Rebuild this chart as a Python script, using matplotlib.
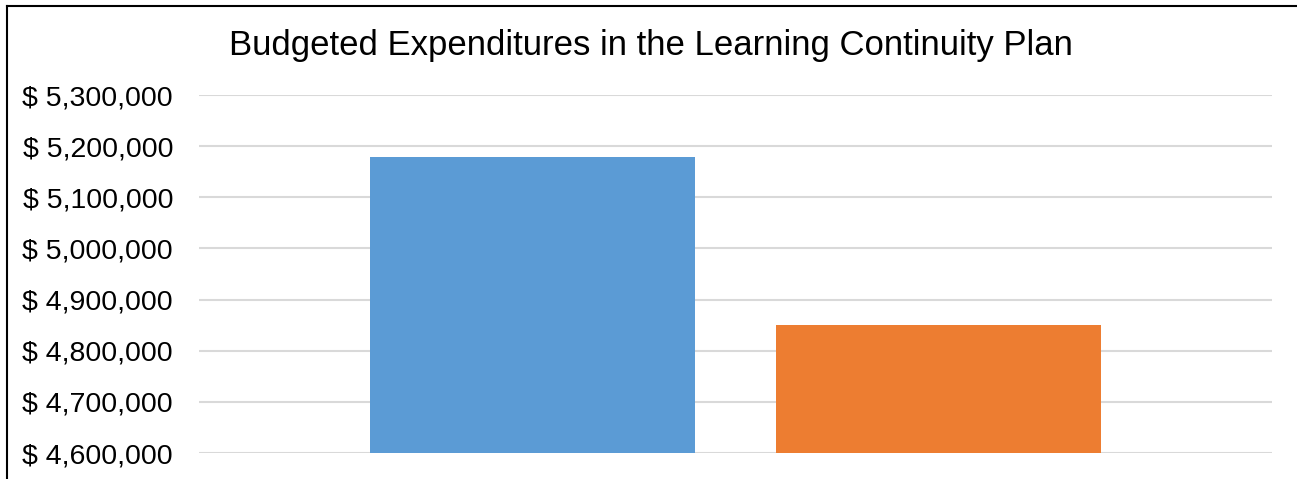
import matplotlib
matplotlib.use("Agg")
import matplotlib.pyplot as plt
from matplotlib.lines import Line2D
from matplotlib.ticker import FuncFormatter

categories = ["Series A", "Series B"]
values = [5179000, 4850000]
colors = ["#5B9BD5", "#ED7D31"]
yticks = [4600000, 4700000, 4800000, 4900000, 5000000, 5100000, 5200000, 5300000]
title = "Budgeted Expenditures in the Learning Continuity Plan"

plt.rcParams['font.family'] = ['Liberation Sans', 'DejaVu Sans']

W, H = 1297, 479
fig = plt.figure(figsize=(W / 100, H / 100), dpi=100)
ax = fig.add_axes([199 / W, (H - 453) / H, (1272 - 199) / W, (453 - 95) / H])

x = list(range(len(categories)))
ax.bar(x, values, width=0.8, color=colors, zorder=3)
ax.set_xlim(-0.821, 1.821)
ax.set_ylim(4600000, 5300000)
ax.set_yticks(yticks)
ax.yaxis.set_major_formatter(FuncFormatter(lambda v, p: "$ {:,.0f}".format(v)))
ax.grid(axis='y', color='#d9d9d9', linewidth=1.5, zorder=0)
ax.set_xticks([])
ax.tick_params(axis='y', length=0, pad=18.7, labelsize=20.5, labelcolor='black')
for s in ax.spines.values():
    s.set_visible(False)

fig.text(651 / W, 1 - 45 / H, title, ha='center', va='center', fontsize=25, color='black')

# outer border (top and left visible)
fig.add_artist(Line2D([6.5 / W, 1.0], [1 - 5.5 / H, 1 - 5.5 / H], transform=fig.transFigure, color='black', linewidth=1.5))
fig.add_artist(Line2D([6.5 / W, 6.5 / W], [0, 1 - 5.5 / H], transform=fig.transFigure, color='black', linewidth=1.5))

fig.savefig("out.png", dpi=100)
